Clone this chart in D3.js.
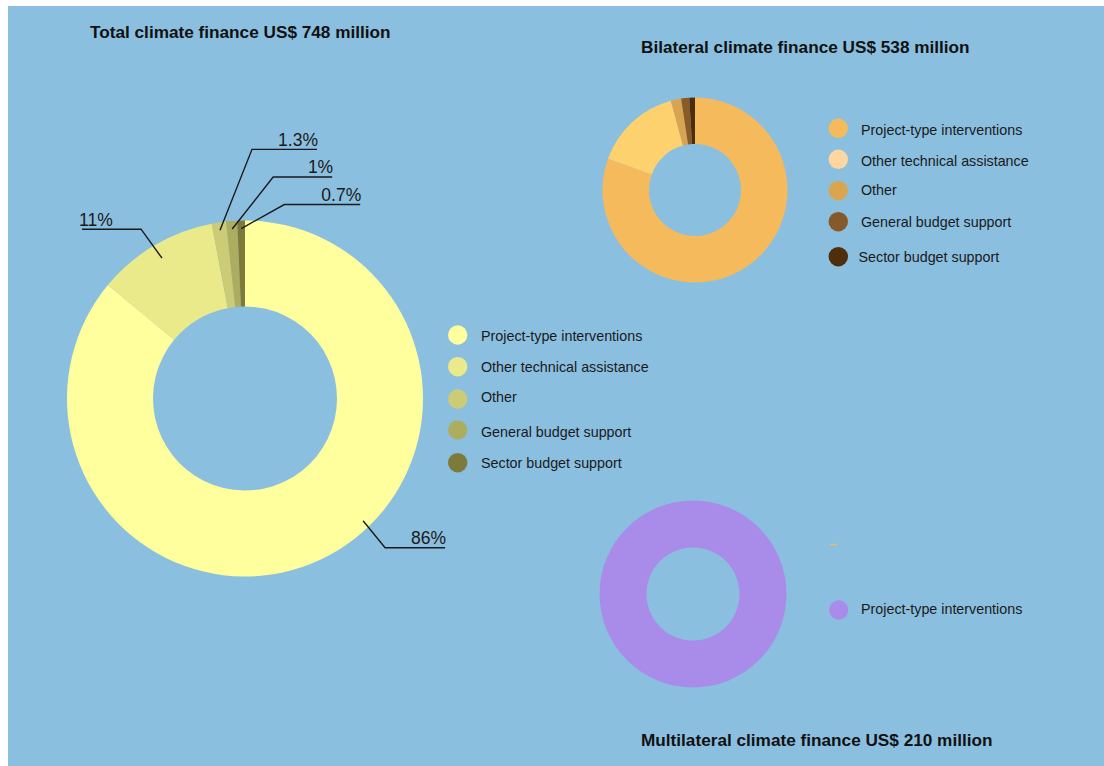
<!DOCTYPE html>
<html>
<head>
<meta charset="utf-8">
<script src="https://cdn.jsdelivr.net/npm/d3@7"></script>
<style>
  body { margin: 0; background: #fff; }
  svg { display: block; font-family: "Liberation Sans", Arial, sans-serif; }
</style>
</head>
<body>
<div id="chart"></div>
<script>
// data
const categories = [
  "Project-type interventions",
  "Other technical assistance",
  "Other",
  "General budget support",
  "Sector budget support"
];
const totalValues = [86, 11, 1.3, 1, 0.7];          // % of US$ 748 million
const bilateralValues = [80.5, 15.3, 1.8, 1.4, 1.0]; // % of US$ 538 million
const multilateralCategories = ["Project-type interventions"];
const multilateralValues = [100];                    // % of US$ 210 million
const totalLabels = ["86%", "11%", "1.3%", "1%", "0.7%"];

const titles = {
  total: "Total climate finance US$ 748 million",
  bilateral: "Bilateral climate finance US$ 538 million",
  multilateral: "Multilateral climate finance US$ 210 million"
};

const totalColors = ["#FFFF9E", "#EAEA8A", "#CCCC76", "#ADAD5F", "#7E7A3B"];
const bilateralSliceColors = ["#F4BA5C", "#FDD16D", "#D9A44F", "#8A5A27", "#4B2D0B"];
const bilateralLegendColors = ["#F4BA5C", "#FDD6A0", "#D9A54F", "#85592A", "#4D2E0D"];
const multilateralColors = ["#A98CE9"];

const width = 1104, height = 766;

const svg = d3.select("#chart")
  .append("svg")
  .attr("width", width)
  .attr("height", height);

svg.append("rect")
  .attr("x", 8).attr("y", 6)
  .attr("width", width - 8).attr("height", height - 6)
  .attr("fill", "#8BBFE0");

const pie = d3.pie().sort(null).value(d => d);

function donut(values, colors, cx, cy, rOut, rIn) {
  const g = svg.append("g").attr("transform", `translate(${cx},${cy})`);
  const arc = d3.arc().innerRadius(rIn).outerRadius(rOut);
  const arcs = pie(values);
  g.selectAll("path")
    .data(arcs)
    .join("path")
    .attr("d", arc)
    .attr("fill", (d, i) => colors[i]);
  return { g, arcs };
}

function legend(names, colors, x, ys, textX) {
  const g = svg.append("g");
  names.forEach((name, i) => {
    g.append("circle")
      .attr("cx", x).attr("cy", ys[i].c)
      .attr("r", 9.7)
      .attr("fill", colors[i]);
    g.append("text")
      .attr("x", textX[i]).attr("y", ys[i].t)
      .attr("dy", "0.35em")
      .attr("font-size", 14.3)
      .attr("fill", "#1a1a1a")
      .text(name);
  });
}

function title(text, x, y) {
  svg.append("text")
    .attr("x", x).attr("y", y)
    .attr("font-size", 17.2)
    .attr("font-weight", "bold")
    .attr("fill", "#111")
    .text(text);
}

// ---- total donut
const mainR = 178, mainIn = 92;
const main = donut(totalValues, totalColors, 245, 398.5, mainR, mainIn);

// label leaders: start inside slice, elbow, then horizontal underline
const labelLayout = [
  { angle: 136, dx: 22, dy: 27, len: 60, side: "right" },
  { angle: null, dx: -21, dy: -29, len: 59, side: "left" },
  { angle: null, dx: 32, dy: -81, len: 65, side: "right" },
  { angle: null, dx: 41, dy: -52, len: 59, side: "right" },
  { angle: null, dx: 43, dy: -24, len: 76, side: "right" }
];

main.arcs.forEach((d, i) => {
  const lay = labelLayout[i];
  const a = lay.angle != null ? lay.angle * Math.PI / 180 : (d.startAngle + d.endAngle) / 2;
  const r0 = i === 1 ? mainR - 15 : mainR - 8;
  const sx = Math.sin(a) * r0, sy = -Math.cos(a) * r0;
  const ex = sx + lay.dx, ey = sy + lay.dy;
  const hx = lay.side === "right" ? ex + lay.len : ex - lay.len;
  main.g.append("polyline")
    .attr("points", `${sx},${sy} ${ex},${ey} ${hx},${ey}`)
    .attr("fill", "none")
    .attr("stroke", "#1a1a1a")
    .attr("stroke-width", 1.4);
  main.g.append("text")
    .attr("x", lay.side === "right" ? hx + 1 : hx - 3)
    .attr("y", ey - 3.5)
    .attr("text-anchor", lay.side === "right" ? "end" : "start")
    .attr("font-size", 17.5)
    .attr("fill", "#1a1a1a")
    .text(totalLabels[i]);
});

legend(categories, totalColors, 457.7,
  [{ c: 335, t: 335.7 }, { c: 366.7, t: 367.3 }, { c: 399, t: 396.7 }, { c: 430, t: 431.7 }, { c: 462.7, t: 463.3 }],
  [481, 481, 481, 481, 481]);

// ---- bilateral donut
donut(bilateralValues, bilateralSliceColors, 695, 190, 92.5, 46);
legend(categories, bilateralLegendColors, 838.3,
  [{ c: 128.3, t: 130 }, { c: 159.3, t: 161 }, { c: 190.7, t: 190 }, { c: 221.7, t: 221.7 }, { c: 256.7, t: 256.7 }],
  [861, 861, 861, 861, 858.5]);

// ---- multilateral donut
const multi = donut(multilateralValues, multilateralColors, 693, 594, 93.5, 46.5);
multi.g.append("line")
  .attr("x1", 137).attr("x2", 144)
  .attr("y1", -49.5).attr("y2", -49.5)
  .attr("stroke", "#F4BA5C")
  .attr("stroke-width", 1.5);
legend(multilateralCategories, multilateralColors, 838.7, [{ c: 610, t: 608.7 }], [861]);

// ---- titles
title(titles.total, 90, 38);
title(titles.bilateral, 641, 53);
title(titles.multilateral, 641, 746);
</script>
</body>
</html>
